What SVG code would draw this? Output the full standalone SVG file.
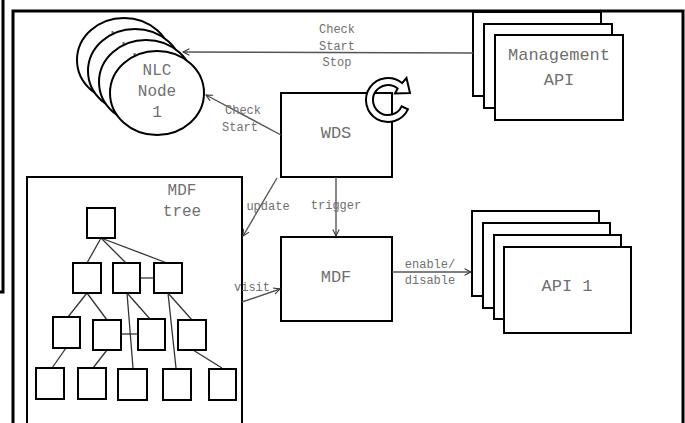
<svg xmlns="http://www.w3.org/2000/svg" width="685" height="423" viewBox="0 0 685 423">
<defs>
<style>
.frame{fill:none;stroke:#000;stroke-width:3}
.box{fill:#fff;stroke:#000;stroke-width:2}
.sq{fill:#fff;stroke:#000;stroke-width:2}
.tl{stroke:#333;stroke-width:1.3;fill:none}
.con{stroke:#555;stroke-width:1.4;fill:none}
.t{font-family:"Liberation Mono","DejaVu Sans Mono",monospace;fill:#707070;text-anchor:middle}
.s12{font-size:12px}
.s16{font-size:16px}
.s17{font-size:17px}
</style>
<marker id="arr" viewBox="0 0 10 10" refX="9" refY="5" markerWidth="8" markerHeight="8" markerUnits="userSpaceOnUse" orient="auto">
<path d="M1,1 L9,5 L1,9" fill="none" stroke="#333" stroke-width="1.3"/>
</marker>
</defs>
<rect width="685" height="423" fill="#fff"/>
<g id="frame">
<polyline class="frame" points="3,0 3,292 0,292"/>
<polyline class="frame" points="13,423 13,11 683,11 683,423"/>
</g>
<g id="nlc-nodes">
<ellipse class="box" cx="124" cy="60" rx="47" ry="42"/>
<text class="t s16" x="115" y="42">N</text>
<ellipse class="box" cx="135" cy="71" rx="47" ry="42"/>
<text class="t s16" x="126" y="53">N</text>
<ellipse class="box" cx="146" cy="82" rx="47" ry="42"/>
<text class="t s16" x="137" y="64">N</text>
<ellipse class="box" cx="157" cy="93" rx="47" ry="42"/>
<text class="t s16" x="157" y="75">NLC</text>
<text class="t s16" x="157" y="96">Node</text>
<text class="t s16" x="157" y="117">1</text>
</g>
<g id="management-api">
<rect class="box" x="473" y="12" width="128" height="84"/>
<rect class="box" x="484" y="24" width="128" height="84"/>
<rect class="box" x="495" y="35" width="128" height="85"/>
<text class="t s17" x="559" y="60">Management</text>
<text class="t s17" x="559" y="85">API</text>
</g>
<g id="wds">
<rect class="box" x="281" y="93" width="111" height="84"/>
<text class="t s17" x="336" y="138">WDS</text>
<path d="M407.9,109.3 A22,22 0 1 1 402.1,83.1 L406.5,78 L410,93 L395,93.5 L397.6,88.5 A15,15 0 1 0 401.6,106.3 Z" fill="#fff" stroke="#000" stroke-width="2" stroke-linejoin="miter"/>
</g>
<g id="mdf">
<rect class="box" x="281" y="237" width="111" height="84"/>
<text class="t s17" x="336" y="282">MDF</text>
</g>
<g id="api">
<rect class="box" x="472" y="211" width="127" height="85"/>
<rect class="box" x="483" y="223" width="127" height="85"/>
<rect class="box" x="494" y="235" width="127" height="84"/>
<rect class="box" x="504" y="247" width="127" height="86"/>
<text class="t s17" x="567" y="291">API 1</text>
</g>
<g id="mdf-tree">
<rect class="box" x="27" y="177" width="215" height="260"/>
<text class="t s16" x="182" y="195">MDF</text>
<text class="t s16" x="182" y="216">tree</text>
<g class="tl">
<line x1="101" y1="238" x2="87" y2="263"/>
<line x1="101" y1="238" x2="126" y2="263"/>
<line x1="101" y1="238" x2="167" y2="263"/>
<line x1="140" y1="278" x2="154" y2="278"/>
<line x1="87" y1="293" x2="68" y2="317"/>
<line x1="87" y1="293" x2="107" y2="320"/>
<line x1="127" y1="293" x2="133" y2="368"/>
<line x1="127" y1="293" x2="150" y2="319"/>
<line x1="168" y1="293" x2="176" y2="368"/>
<line x1="168" y1="293" x2="192" y2="320"/>
<line x1="121" y1="334" x2="138" y2="334"/>
<line x1="66" y1="348" x2="52" y2="368"/>
<line x1="107" y1="350" x2="93" y2="368"/>
<line x1="193" y1="350" x2="222" y2="368"/>
</g>
<rect class="sq" x="87" y="208" width="28" height="30"/>
<rect class="sq" x="73" y="263" width="28" height="30"/>
<rect class="sq" x="113" y="263" width="27" height="30"/>
<rect class="sq" x="154" y="263" width="28" height="30"/>
<rect class="sq" x="53" y="317" width="27" height="31"/>
<rect class="sq" x="93" y="320" width="28" height="30"/>
<rect class="sq" x="138" y="319" width="27" height="31"/>
<rect class="sq" x="178" y="320" width="28" height="30"/>
<rect class="sq" x="36" y="368" width="28" height="31"/>
<rect class="sq" x="78" y="368" width="28" height="31"/>
<rect class="sq" x="118" y="369" width="29" height="31"/>
<rect class="sq" x="163" y="369" width="28" height="31"/>
<rect class="sq" x="209" y="369" width="27" height="31"/>
</g>
<g id="connectors">
<line class="con" x1="473" y1="53" x2="183" y2="52" marker-end="url(#arr)"/>
<line class="con" x1="281" y1="135" x2="206" y2="95" marker-end="url(#arr)"/>
<line class="con" x1="336" y1="177" x2="336" y2="236" marker-end="url(#arr)"/>
<line class="con" x1="277" y1="178" x2="243" y2="236" marker-end="url(#arr)"/>
<line class="con" x1="242" y1="302" x2="280" y2="289" marker-end="url(#arr)"/>
<line class="con" x1="392" y1="272" x2="471" y2="272" marker-end="url(#arr)"/>
</g>
<g id="labels">
<text class="t s12" x="337" y="33">Check</text>
<text class="t s12" x="337" y="50">Start</text>
<text class="t s12" x="337" y="66">Stop</text>
<text class="t s12" x="243" y="114">Check</text>
<text class="t s12" x="240" y="131">Start</text>
<text class="t s12" x="336" y="209">trigger</text>
<text class="t s12" x="268" y="210">update</text>
<text class="t s12" x="252" y="291">visit</text>
<text class="t s12" x="430" y="268">enable/</text>
<text class="t s12" x="430" y="284">disable</text>
</g>
</svg>
